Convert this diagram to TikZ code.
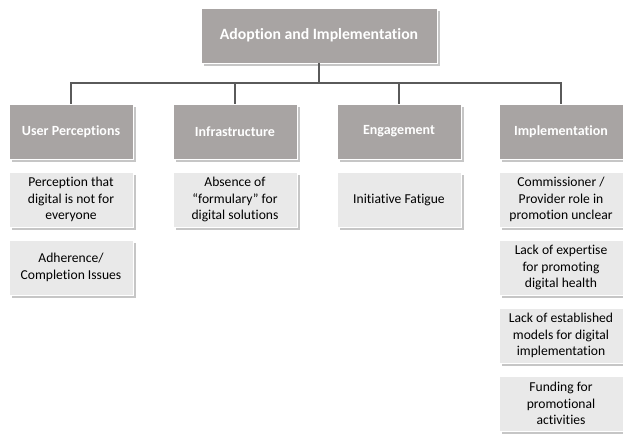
\documentclass[tikz,border=0pt]{standalone}
\usepackage{fontspec}
\setmainfont{Carlito}[Ligatures=NoCommon]
\usepackage{tikz}
\usetikzlibrary{shadows}
\definecolor{HeadGray}{HTML}{A8A4A3}
\definecolor{LeafGray}{HTML}{E9E9E9}
\definecolor{ShadeGray}{HTML}{C6C6C6}
\definecolor{LineGray}{HTML}{5A5A5A}

\tikzset{
  boxshade/.style={general shadow={fill=ShadeGray,shadow xshift=2.3pt,shadow yshift=-2.3pt}},
  headbox/.style={boxshade,fill=HeadGray,draw=white,line width=0.6pt,text=white,
    font=\fontsize{10.5}{13}\selectfont\bfseries,minimum width=93pt,minimum height=41.25pt,
    inner sep=0pt,align=center},
  leafbox/.style={boxshade,fill=LeafGray,draw=white,line width=0.6pt,text=black,
    font=\fontsize{10.2}{12.4}\selectfont,minimum width=93pt,minimum height=41.25pt,
    inner sep=0pt,align=center},
  link/.style={draw=LineGray,line width=1.1pt}
}

\begin{document}
\begin{tikzpicture}[x=0.75pt,y=-0.75pt]
  \useasboundingbox (0,0) rectangle (623,435);
  % top level
  \node[headbox,minimum width=177pt,font=\fontsize{11.8}{14}\selectfont\bfseries] (top) at (319,35.5) {Adoption and Implementation};
  \coordinate (bus) at (319,83);
  % categories
  \node[headbox] (user) at (71,131.5) {User Perceptions};
  \node[headbox] (infra) at (235,131.5) {Infrastructure};
  \node[headbox] (engage) at (399,131.5) {Engagement};
  \node[headbox] (impl) at (561,131.5) {Implementation};
  % user perceptions
  \node[leafbox] (user1) at (71,199.5) {Perception that\\digital is not for\\everyone};
  \node[leafbox] (user2) at (71,267.5) {Adherence/\\Completion Issues};
  % infrastructure
  \node[leafbox] (infra1) at (235,199.5) {Absence of\\``formulary'' for\\digital solutions};
  % engagement
  \node[leafbox] (engage1) at (399,199.5) {Initiative Fatigue};
  % implementation
  \node[leafbox] (impl1) at (561,199.5) {Commissioner /\\Provider role in\\promotion unclear};
  \node[leafbox] (impl2) at (561,267.5) {Lack of expertise\\for promoting\\digital health};
  \node[leafbox] (impl3) at (561,335.5) {Lack of established\\models for digital\\implementation};
  \node[leafbox] (impl4) at (561,403.5) {Funding for\\promotional\\activities};
  % connectors
  \draw[link] (top.south) -- (bus);
  \foreach \c in {user,infra,engage,impl}
    \draw[link] (bus) -| (\c.north);
\end{tikzpicture}
\end{document}
